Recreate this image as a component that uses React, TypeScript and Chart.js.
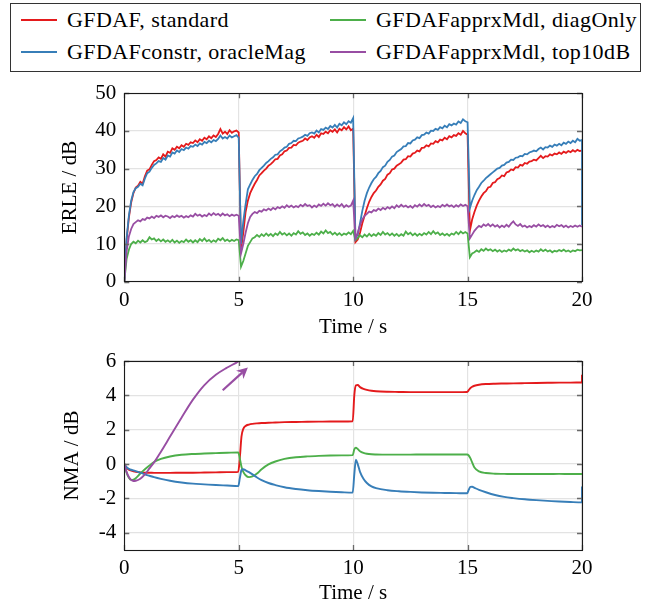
import React, { useEffect, useRef } from 'react';
import { Chart, registerables } from 'chart.js';
Chart.register(...registerables);

// ---------- data ----------
const SERIES_NAMES = [
  'GFDAF, standard',
  'GFDAFapprxMdl, diagOnly',
  'GFDAFconstr, oracleMag',
  'GFDAFapprxMdl, top10dB',
];
const COLORS = ['#e41a1c', '#4daf4a', '#377eb8', '#984ea3'];

const X_TICKS = [0, 5, 10, 15, 20];
const ERLE_TICKS = [0, 10, 20, 30, 40, 50];
const NMA_TICKS = [-4, -2, 0, 2, 4, 6];

// ERLE time grid: 0..20 s in 0.1 s steps, plus a closing point at 20 s
const ERLE_TIME = Array.from({ length: 201 }, (_, i) => i / 10).concat([20]);

const ERLE_STANDARD = [
  0, 11, 17, 21, 23.5, 25, 25.5, 26.5, 26, 28,
  29.5, 29.8, 31, 32, 32.3, 33, 32.6, 33.8, 33.2, 34.5,
  34.2, 35.4, 35, 35.8, 35.4, 36.2, 35.8, 36.6, 36.3, 37,
  36.8, 37.5, 37, 37.8, 37.4, 38.2, 37.8, 38.6, 38.1, 38.8,
  38.4, 39.2, 40.5, 39.3, 39.8, 39.2, 40.2, 39.5, 39.9, 40.1,
  39.6, 8.5, 13, 18.5, 21.5, 23.5, 24.8, 26, 27, 28.2,
  28.8, 29.5, 30, 30.8, 31.2, 31.8, 32.5, 32.6, 33.5, 33.8,
  34.6, 34.8, 35.5, 35.6, 36.3, 36.2, 36.9, 37.2, 37.4, 38,
  37.6, 38.3, 38.6, 38.2, 39, 38.4, 39.4, 39.2, 39.8, 39.4,
  40.2, 39.8, 40.4, 39.6, 40.6, 40.2, 41, 40.4, 41.2, 40.2,
  40.6, 10.5, 11.2, 13, 15.5, 17.5, 19.5, 21.2, 22.5, 23.5,
  24.2, 25.2, 25.8, 26.8, 27.3, 28.4, 28.8, 29.8, 30, 30.8,
  31.2, 31.6, 32.4, 32.5, 33.3, 33.2, 34, 34.2, 34.8, 34.6,
  35.5, 35.6, 36.2, 35.9, 36.7, 36.6, 37.3, 37, 37.7, 37.5,
  38.2, 37.8, 38.6, 38.3, 38.9, 38.7, 39.4, 39, 40, 39.4,
  39, 13.5, 16.5, 18.5, 20.2, 21.5, 22.6, 23.5, 24, 25,
  25.2, 26.2, 26.4, 27.2, 27.5, 28.2, 28, 29, 29.2, 29.8,
  29.6, 30.4, 30.3, 31, 30.8, 31.5, 31.3, 31.9, 32, 32.4,
  32.2, 32.8, 33.4, 32.8, 33.3, 33.2, 33.8, 33.5, 34, 33.8,
  34.3, 33.9, 34.5, 34.2, 34.7, 34.4, 34.9, 34.5, 35, 34.7,
  34.8, 34.8,
];

const ERLE_DIAGONLY = [
  0, 6, 8.5, 10, 10.6, 10.2, 10.9, 10.4, 11, 10.5,
  10.8, 11.8, 11.2, 11.5, 10.8, 11.3, 10.7, 11.2, 10.6, 11,
  10.5, 11.1, 10.4, 10.9, 10.3, 10.8, 10.5, 11.2, 10.6, 11,
  10.4, 11, 10.5, 11.3, 10.8, 11.5, 10.7, 11.1, 10.5, 11,
  10.6, 11.4, 11, 11.6, 10.8, 11.2, 10.7, 11.1, 10.8, 11.2,
  11, 4, 5.5, 7.5, 9.5, 10.5, 11.5, 11.8, 12.4, 11.9,
  12.6, 12.1, 12.8, 12.2, 12.7, 12.1, 12.8, 12.4, 13.2, 12.5,
  12.9, 12.3, 12.8, 12.2, 12.9, 12.5, 13.4, 12.7, 13.1, 12.4,
  12.8, 12.2, 12.7, 12.4, 13, 12.5, 13.3, 12.8, 13.6, 12.9,
  13.2, 12.5, 13, 12.4, 12.9, 12.3, 12.8, 12.5, 13.1, 12.6,
  13.5, 11, 11.6, 12.3, 11.8, 12.5, 12, 12.7, 12.1, 12.6,
  12.2, 12.9, 12.4, 13.2, 12.5, 12.9, 12.3, 12.8, 12.2, 12.7,
  12.1, 12.6, 12.2, 13.3, 12.6, 13, 12.3, 12.8, 12.2, 12.7,
  12.3, 12.9, 12.5, 13.2, 12.6, 13.4, 12.7, 13.1, 12.4, 12.8,
  12.3, 12.7, 12.2, 12.8, 12.5, 13.2, 12.6, 13.3, 12.8, 13.2,
  12.8, 6.5, 7.5, 7.8, 8.3, 7.9, 8.6, 8.2, 8.8, 8.3,
  8.6, 8.1, 8.5, 8, 8.4, 7.9, 8.3, 8, 8.5, 8.2,
  8.8, 8.3, 8.6, 8.1, 8.4, 8, 8.3, 7.8, 8.2, 7.9,
  8.3, 8, 8.6, 8.1, 8.5, 8, 8.3, 7.8, 8.2, 8,
  8.4, 8.1, 8.5, 8, 8.3, 7.9, 8.3, 8.1, 8.5, 8.3,
  8.4, 8.4,
];

const ERLE_ORACLE = [
  0, 11.5, 17.5, 21.5, 23.8, 24.8, 25.2, 26, 25.6, 27.4,
  28.8, 29.2, 30.2, 31, 31.4, 32, 31.8, 32.8, 32.4, 33.5,
  33.2, 34.3, 34, 34.8, 34.4, 35.2, 34.9, 35.6, 35.3, 36,
  35.8, 36.4, 36, 36.7, 36.4, 37.1, 36.8, 37.4, 37, 37.6,
  37.3, 37.9, 38.8, 38, 38.4, 38, 38.8, 38.3, 38.6, 38.9,
  38.2, 10, 16, 20.5, 24.5, 25.8, 27, 28, 28.6, 29.6,
  30.2, 30.8, 31.5, 32, 32.6, 33, 33.7, 33.8, 34.6, 35,
  35.6, 35.8, 36.6, 36.8, 37.4, 37.3, 38, 38.2, 38.5, 39,
  38.7, 39.4, 39.6, 39.3, 40.1, 39.6, 40.5, 40.3, 40.9, 40.5,
  41.3, 40.9, 41.6, 40.9, 41.9, 41.5, 42.3, 41.8, 42.6, 42.2,
  43.4, 11.5, 12.5, 15.5, 18.8, 21.5, 23.5, 25, 26.2, 27.2,
  27.8, 28.8, 29.4, 30.4, 30.8, 31.8, 32.3, 33.2, 33.5, 34.4,
  34.8, 35.2, 35.9, 36, 36.8, 36.7, 37.5, 37.7, 38.3, 38.1,
  38.9, 39, 39.6, 39.3, 40.1, 40, 40.6, 40.3, 41, 40.7,
  41.4, 41, 41.8, 41.5, 42, 41.7, 42.5, 42.1, 43.1, 42.6,
  42.3, 19.5, 21.5, 23, 24.3, 25.2, 26.2, 26.8, 27.5, 28,
  28.5, 29, 29.5, 30, 30.2, 30.8, 31, 31.6, 31.8, 32.4,
  32.3, 32.9, 33, 33.4, 33.3, 33.9, 33.8, 34.3, 34.5, 34.8,
  34.6, 35.2, 35.6, 35.1, 35.7, 35.6, 36.1, 35.8, 36.4, 36.1,
  36.6, 36.2, 36.9, 36.6, 37.2, 36.8, 37.4, 37, 37.9, 37.4,
  37.6, 15,
];

const ERLE_TOP10 = [
  0, 8, 12, 14, 15.3, 15.8, 16.3, 16, 16.6, 16.4,
  17, 16.8, 17.3, 16.9, 17.5, 17.2, 17.6, 17.1, 17.5, 17.3,
  16.9, 17.4, 17.1, 17.6, 17.2, 17.5, 17, 17.4, 17.1, 17.6,
  17.3, 18, 17.5, 17.8, 17.3, 17.7, 17.4, 18.1, 17.6, 18.2,
  17.7, 18, 17.5, 18.1, 17.6, 17.9, 17.4, 17.8, 17.5, 17.8,
  17.5, 7.5, 10, 13, 15.5, 17.2, 18, 18.5, 18.2, 18.8,
  18.6, 19.2, 18.9, 19.4, 19, 19.6, 19.2, 19.8, 19.5, 20,
  19.6, 20.3, 19.8, 20.2, 19.7, 20.1, 19.8, 20.4, 20, 20.6,
  20.1, 20.3, 19.7, 20.2, 19.8, 20.5, 20.1, 20.7, 20.2, 20.8,
  20.3, 20.6, 19.9, 20.5, 20, 20.6, 19.8, 20.3, 19.9, 20.2,
  21.5, 11.5, 13, 15, 16.5, 17.5, 18, 18.6, 18.4, 19,
  18.8, 19.4, 19, 19.6, 19.2, 19.8, 19.4, 20, 19.5, 20.3,
  19.8, 20.4, 19.9, 20.2, 19.7, 20.1, 19.6, 20.3, 19.9, 20.5,
  20, 20.6, 20.1, 20.4, 19.8, 20.2, 19.7, 20.1, 19.8, 20.4,
  20, 20.5, 20, 20.3, 19.8, 20.3, 19.9, 20.5, 20.1, 20.4,
  20, 11.5, 12.5, 13.5, 14.2, 14.8, 14.5, 15.2, 14.8, 15.3,
  14.7, 15.2, 14.6, 15, 14.4, 14.9, 14.5, 15.1, 14.6, 15.4,
  16, 15.2, 14.8, 15.3, 14.6, 14.9, 14.4, 14.8, 14.5, 15,
  14.6, 15.2, 14.7, 15, 14.5, 14.9, 14.4, 14.8, 14.5, 15.1,
  14.7, 15, 14.5, 14.9, 14.4, 14.8, 14.5, 14.9, 14.6, 14.9,
  14.6, 14.6,
];

// NMA time points (s)
const NMA_TIME = [
  0, 0.1, 0.2, 0.3, 0.4, 0.5, 0.7, 0.9, 1.1, 1.3, 1.6, 2.0,
  2.5, 3.0, 3.5, 4.0, 4.5, 4.98, 5.05, 5.12, 5.2, 5.3, 5.45, 5.6,
  5.8, 6.0, 6.3, 6.6, 7.0, 7.5, 8.0, 8.5, 9.0, 9.5, 9.98,
  10.05, 10.12, 10.2, 10.3, 10.45, 10.6, 10.8, 11.0, 11.5, 12, 12.5, 13,
  13.5, 14, 14.5, 14.98, 15.05, 15.12, 15.2, 15.3, 15.5, 15.8,
  16.2, 16.6, 17, 17.5, 18, 18.5, 19, 19.5, 20, 20,
];

const NMA_STANDARD = [
  0, -0.2, -0.32, -0.38, -0.42, -0.45, -0.48, -0.5, -0.5, -0.51, -0.51, -0.51,
  -0.5, -0.5, -0.49, -0.48, -0.47, -0.45, 0.4, 1.6, 2.05, 2.22, 2.3, 2.34,
  2.37, 2.39, 2.41, 2.42, 2.44, 2.45, 2.46, 2.47, 2.48, 2.48, 2.49,
  4.0, 4.58, 4.6, 4.48, 4.38, 4.32, 4.27, 4.24, 4.21, 4.2, 4.19, 4.19,
  4.19, 4.19, 4.19, 4.2, 4.3, 4.42, 4.5, 4.56, 4.62, 4.66,
  4.68, 4.69, 4.7, 4.71, 4.72, 4.73, 4.74, 4.74, 4.75, 5.2,
];

const NMA_DIAGONLY = [
  0, -0.5, -0.8, -0.92, -0.9, -0.82, -0.55, -0.3, -0.08, 0.12, 0.3, 0.44,
  0.54, 0.59, 0.62, 0.64, 0.66, 0.68, 0.3, -0.15, -0.45, -0.65, -0.76, -0.72,
  -0.55, -0.3, -0.02, 0.15, 0.3, 0.4, 0.45, 0.48, 0.5, 0.51, 0.52,
  0.85, 0.95, 0.88, 0.75, 0.65, 0.6, 0.57, 0.56, 0.55, 0.55, 0.55, 0.56,
  0.56, 0.56, 0.56, 0.56, 0.5, 0.35, 0.1, -0.2, -0.42, -0.52,
  -0.56, -0.57, -0.58, -0.58, -0.58, -0.58, -0.57, -0.58, -0.58, -0.58,
];

const NMA_ORACLE = [
  0, -0.18, -0.28, -0.33, -0.37, -0.41, -0.5, -0.6, -0.68, -0.76, -0.86, -0.97,
  -1.07, -1.14, -1.18, -1.22, -1.25, -1.28, -0.8, -0.35, -0.3, -0.36, -0.47, -0.6,
  -0.78, -0.93, -1.1, -1.22, -1.35, -1.45, -1.52, -1.57, -1.61, -1.64, -1.66,
  -0.6, 0.25, 0.0, -0.45, -0.85, -1.1, -1.3, -1.4, -1.52, -1.58, -1.62, -1.65,
  -1.67, -1.68, -1.69, -1.7, -1.5, -1.33, -1.32, -1.38, -1.5, -1.64,
  -1.8, -1.91, -1.98, -2.05, -2.1, -2.14, -2.18, -2.21, -2.23, -1.3,
];

const NMA_TOP10 = [
  0, -0.45, -0.75, -0.92, -0.98, -0.97, -0.85, -0.6, -0.25, 0.1, 0.72, 1.6,
  2.7, 3.75, 4.6, 5.2, 5.62, 5.98, 6.05, 6.12, 6.2, null, null, null,
  null, null, null, null, null, null, null, null, null, null, null,
  null, null, null, null, null, null, null, null, null, null, null, null,
  null, null, null, null, null, null, null, null, null, null,
  null, null, null, null, null, null, null, null, null, null,
];

// annotation arrow in the NMA panel (time, dB)
const ARROW_FROM = [4.3, 4.3];
const ARROW_TO = [5.4, 5.62];

// ---------- styling ----------
const FONT = '"Liberation Serif", "DejaVu Serif", serif';
const FONT_SIZE = 21;

const pts = (t: number[], v: (number | null)[]) => t.map((x, i) => ({ x, y: v[i] }));

const framePlugin = {
  id: 'frameTicks',
  afterDatasetsDraw(chart: any) {
    const { ctx, chartArea: a, scales } = chart;
    ctx.save();
    ctx.strokeStyle = '#6a6a6a';
    ctx.lineWidth = 1.3;
    const L = 5;
    scales.x.ticks.forEach((t: any) => {
      const px = Math.round(scales.x.getPixelForValue(t.value)) + 0.5;
      ctx.beginPath();
      ctx.moveTo(px, a.bottom); ctx.lineTo(px, a.bottom - L);
      ctx.moveTo(px, a.top); ctx.lineTo(px, a.top + L);
      ctx.stroke();
    });
    scales.y.ticks.forEach((t: any) => {
      const py = Math.round(scales.y.getPixelForValue(t.value)) + 0.5;
      ctx.beginPath();
      ctx.moveTo(a.left, py); ctx.lineTo(a.left + L, py);
      ctx.moveTo(a.right, py); ctx.lineTo(a.right - L, py);
      ctx.stroke();
    });
    ctx.strokeStyle = '#1a1a1a';
    ctx.lineWidth = 1.1;
    ctx.strokeRect(Math.round(a.left) + 0.5, Math.round(a.top) + 0.5, Math.round(a.width), Math.round(a.height));
    ctx.restore();
  },
};

const arrowPlugin = {
  id: 'arrow',
  afterDatasetsDraw(chart: any, _args: any, opts: any) {
    if (!opts || !opts.enabled) return;
    const { ctx, scales } = chart;
    const x0 = scales.x.getPixelForValue(ARROW_FROM[0]);
    const y0 = scales.y.getPixelForValue(ARROW_FROM[1]);
    const x1 = scales.x.getPixelForValue(ARROW_TO[0]);
    const y1 = scales.y.getPixelForValue(ARROW_TO[1]);
    const ang = Math.atan2(y1 - y0, x1 - x0);
    const hl = 11, hw = 5.5;
    ctx.save();
    ctx.strokeStyle = COLORS[3];
    ctx.fillStyle = COLORS[3];
    ctx.lineWidth = 2.2;
    ctx.beginPath();
    ctx.moveTo(x0, y0);
    ctx.lineTo(x1 - Math.cos(ang) * hl * 0.7, y1 - Math.sin(ang) * hl * 0.7);
    ctx.stroke();
    ctx.beginPath();
    ctx.moveTo(x1, y1);
    ctx.lineTo(x1 - Math.cos(ang) * hl + Math.sin(ang) * hw, y1 - Math.sin(ang) * hl - Math.cos(ang) * hw);
    ctx.lineTo(x1 - Math.cos(ang) * hl * 0.7, y1 - Math.sin(ang) * hl * 0.7);
    ctx.lineTo(x1 - Math.cos(ang) * hl - Math.sin(ang) * hw, y1 - Math.sin(ang) * hl + Math.cos(ang) * hw);
    ctx.closePath();
    ctx.fill();
    ctx.restore();
  },
};

function makeConfig(opts: {
  time: number[];
  series: (number | null)[][];
  yMin: number;
  yMax: number;
  yTicks: number[];
  yTitle: string;
  padLeft: number;
  axisWidth: number;
  padTop: number;
  axisHeight: number;
  smooth: boolean;
  arrow: boolean;
}) {
  const order = [4, 3, 2, 1];
  return {
    type: 'line' as const,
    data: {
      datasets: opts.series.map((s, i) => ({
        label: SERIES_NAMES[i],
        data: pts(opts.time, s),
        borderColor: COLORS[i],
        backgroundColor: COLORS[i],
        borderWidth: opts.smooth ? 1.9 : 1.8,
        pointRadius: 0,
        fill: false,
        tension: 0,
        cubicInterpolationMode: opts.smooth ? ('monotone' as const) : ('default' as const),
        spanGaps: false,
        order: order[i],
      })),
    },
    plugins: [framePlugin, arrowPlugin],
    options: {
      animation: false as const,
      responsive: false,
      devicePixelRatio: 1,
      layout: { padding: { left: opts.padLeft, right: 72, top: opts.padTop, bottom: 0 } },
      plugins: {
        legend: { display: false },
        tooltip: { enabled: false },
        arrow: { enabled: opts.arrow },
      },
      scales: {
        x: {
          type: 'linear' as const,
          min: 0,
          max: 20,
          afterBuildTicks: (s: any) => { s.ticks = X_TICKS.map((v) => ({ value: v })); },
          afterFit: (s: any) => { s.height = opts.axisHeight; s.paddingLeft = 0; s.paddingRight = 0; },
          ticks: {
            color: '#000',
            font: { family: FONT, size: FONT_SIZE },
            padding: 6,
            maxRotation: 0,
            autoSkip: false,
            callback: (v: any) => String(v),
          },
          grid: { color: '#e3e3e3', lineWidth: 1.2, drawTicks: false },
          border: { display: false },
          title: {
            display: true,
            text: 'Time / s',
            color: '#000',
            font: { family: FONT, size: FONT_SIZE, lineHeight: 1 },
            padding: 0,
          },
        },
        y: {
          type: 'linear' as const,
          min: opts.yMin,
          max: opts.yMax,
          afterBuildTicks: (s: any) => { s.ticks = opts.yTicks.map((v) => ({ value: v })); },
          afterFit: (s: any) => { s.width = opts.axisWidth; s.paddingTop = 0; s.paddingBottom = 0; },
          ticks: {
            color: '#000',
            font: { family: FONT, size: FONT_SIZE },
            padding: 8,
            autoSkip: false,
            callback: (v: any) => String(v),
          },
          grid: { color: '#e3e3e3', lineWidth: 1.2, drawTicks: false },
          border: { display: false },
          title: {
            display: true,
            text: opts.yTitle,
            color: '#000',
            font: { family: FONT, size: FONT_SIZE, lineHeight: 1.2 },
            padding: 0,
          },
        },
      },
    },
  };
}

function ChartCanvas(props: { top: number; height: number; config: any }) {
  const ref = useRef<HTMLCanvasElement | null>(null);
  useEffect(() => {
    if (!ref.current) return;
    const chart = new Chart(ref.current, props.config);
    return () => chart.destroy();
  }, []);
  return (
    <canvas
      ref={ref}
      width={654}
      height={props.height}
      style={{ position: 'absolute', left: 0, top: props.top, width: 654, height: props.height }}
    />
  );
}

function LegendEntry(props: { x: number; y: number; color: string; text: string }) {
  return (
    <div style={{ position: 'absolute', left: props.x, top: props.y, height: 26, display: 'flex', alignItems: 'center' }}>
      <div style={{ width: 36, height: 2, background: props.color, marginRight: 10 }} />
      <span style={{ fontFamily: FONT, fontSize: 22, color: '#000', whiteSpace: 'nowrap', letterSpacing: 0.4 }}>{props.text}</span>
    </div>
  );
}

export default function App() {
  const topCfg = makeConfig({
    time: ERLE_TIME,
    series: [ERLE_STANDARD, ERLE_DIAGONLY, ERLE_ORACLE, ERLE_TOP10],
    yMin: 0,
    yMax: 50,
    yTicks: ERLE_TICKS,
    yTitle: 'ERLE / dB',
    padLeft: 58,
    axisWidth: 124.3 - 58,
    padTop: 13.3,
    axisHeight: 258 - 201.7,
    smooth: false,
    arrow: false,
  });
  const botCfg = makeConfig({
    time: NMA_TIME,
    series: [NMA_STANDARD, NMA_DIAGONLY, NMA_ORACLE, NMA_TOP10],
    yMin: -5,
    yMax: 6,
    yTicks: NMA_TICKS,
    yTitle: 'NMA / dB',
    padLeft: 60,
    axisWidth: 124.3 - 60,
    padTop: 19,
    axisHeight: 262 - 208,
    smooth: true,
    arrow: true,
  });
  return (
    <div style={{ position: 'absolute', left: 0, top: 0, width: 654, height: 604, overflow: 'hidden', background: '#fff' }}>
      <div style={{ position: 'absolute', left: 10, top: 3, width: 631, height: 69, border: '1px solid #333', boxSizing: 'border-box' }} />
      <LegendEntry x={21} y={7} color={COLORS[0]} text={SERIES_NAMES[0]} />
      <LegendEntry x={330} y={7} color={COLORS[1]} text={SERIES_NAMES[1]} />
      <LegendEntry x={21} y={39} color={COLORS[2]} text={SERIES_NAMES[2]} />
      <LegendEntry x={330} y={39} color={COLORS[3]} text={SERIES_NAMES[3]} />
      <ChartCanvas top={80} height={258} config={topCfg} />
      <ChartCanvas top={342} height={262} config={botCfg} />
    </div>
  );
}
